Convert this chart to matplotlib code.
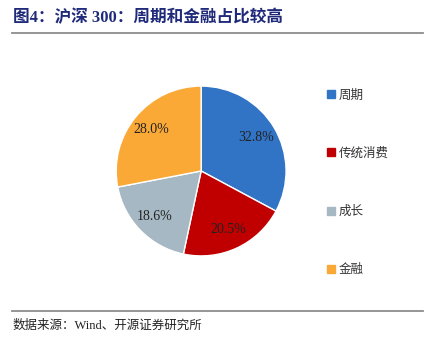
import matplotlib
matplotlib.use('Agg')
import matplotlib.pyplot as plt
from matplotlib.lines import Line2D

plt.rcParams['font.family'] = ['Liberation Serif', 'Noto Sans CJK SC']

labels = ['周期', '传统消费', '成长', '金融']
shares = [32.8, 20.5, 18.6, 28.0]
colors = ['#3174C6', '#C00000', '#A5B8C3', '#FAA937']

title = '图4：沪深 300：周期和金融占比较高'
source = '数据来源：Wind、开源证券研究所'

fig = plt.figure(figsize=(4.33, 3.37), dpi=100)

# pie
ax = fig.add_axes([0.268, 0.2406, 0.393, 0.504])
wedges, texts, autotexts = ax.pie(
    shares, colors=colors, startangle=90, counterclock=False,
    autopct='%.1f%%', pctdistance=0.76,
    wedgeprops=dict(edgecolor='white', linewidth=1.0),
    textprops=dict(fontsize=10, color='#222222', family='Liberation Serif'))
ax.set_xlim(-1, 1)
ax.set_ylim(-1, 1)
ax.set_aspect('equal')

# legend
handles = [Line2D([0], [0], marker='s', linestyle='none', markersize=6,
                  markerfacecolor=c, markeredgecolor=c) for c in colors]
fig.legend(handles, labels, loc='upper left', bbox_to_anchor=(0.742, 0.752),
           frameon=False, handletextpad=0.2, labelspacing=3.62,
           handlelength=0.8, borderaxespad=0,
           prop=dict(family=['Noto Sans CJK SC'], size=9))
for t in fig.legends[0].get_texts():
    t.set_color('#333333')

# title and lines
fig.text(0.03, 0.948, title, fontsize=12, fontweight='bold', color='#1F2A7A',
         va='center', ha='left')
fig.add_artist(Line2D([0.028, 0.977], [0.902, 0.902], color='#8C8C8C', linewidth=1.3))
fig.add_artist(Line2D([0.028, 0.977], [0.077, 0.077], color='#8C8C8C', linewidth=1.3))
fig.text(0.03, 0.035, source, fontsize=9, color='#222222', va='center', ha='left')

fig.savefig('out.png', dpi=100)
